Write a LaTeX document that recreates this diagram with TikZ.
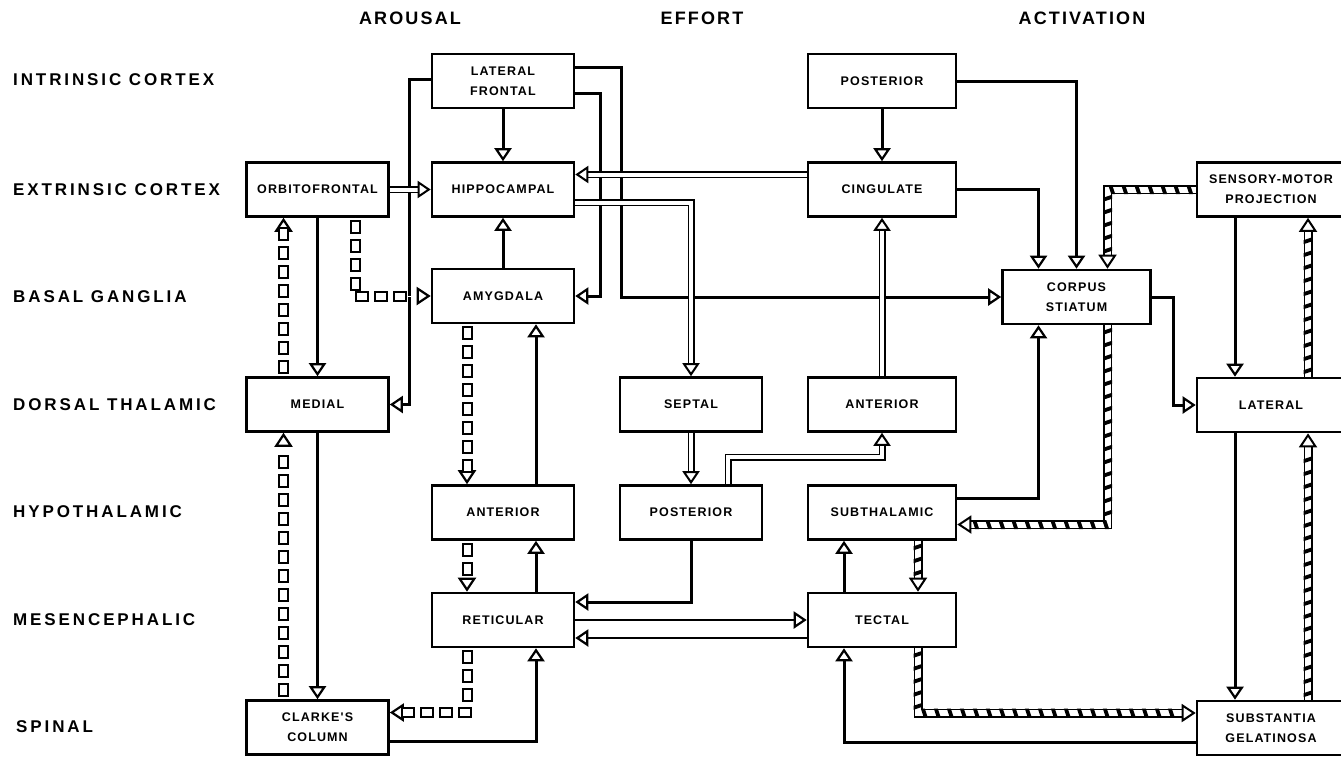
\documentclass[tikz,border=0pt]{standalone}
\usepackage{fontspec}
\setmainfont{Liberation Sans}
\newfontfamily\boxfont[LetterSpace=9]{Liberation Sans}
\newfontfamily\labfont[LetterSpace=17]{Liberation Sans}
\newfontfamily\headfont[LetterSpace=12]{Liberation Sans}
\usetikzlibrary{arrows.meta,decorations.markings}
\begin{document}
\begin{tikzpicture}[x=1pt,y=-1pt,
  box/.style={draw, line width=2.6pt, fill=white, minimum height=54pt, inner sep=0pt, align=center,
    font=\boxfont\bfseries\fontsize{12.5}{20}\selectfont},
  abox/.style={box, minimum width=142pt},
  cbox/.style={box, minimum width=148pt},
  lab/.style={anchor=west, inner sep=0pt, font=\labfont\bfseries\fontsize{17}{19}\selectfont},
  head/.style={inner sep=0pt, font=\headfont\bfseries\fontsize{18}{20}\selectfont},
  sol/.style={line width=3pt, -{Triangle[open, length=13pt, width=17pt, line width=2.2pt]}},
  thinl/.style={line width=1.8pt, -{Triangle[open, length=13pt, width=17pt, line width=2.2pt]}},
  dbl/.style={double=white, double distance=4pt, line width=1.5pt,
    -{Triangle[open, length=13pt, width=17pt, line width=2pt]}},
  dbox/.style={draw=white, line width=0.1pt,
    -{Triangle[open, black, length=14pt, width=18pt, line width=2.2pt]},
    postaction={decorate, decoration={markings,
      mark=between positions 9pt and -15pt step 19pt with {\draw[arrows=-, black, line width=2pt, fill=white] (-6,-4.5) rectangle (6,4.5);}}}},
  hatch/.style={double=white, double distance=6pt, line width=1.5pt,
    -{Triangle[open, length=14pt, width=18pt, line width=2pt]},
    postaction={decorate, decoration={markings,
      mark=between positions 6pt and -17pt step 13pt with {\fill[black] (-3.5,-4.5) -- (0.5,-4.5) -- (3.5,4.5) -- (-0.5,4.5) -- cycle;}}}}
]
\path[use as bounding box] (0,0) rectangle (1341,756);
\clip (0,0) rectangle (1341,756);

% headers
\node[head] (hA) at (410,18) {AROUSAL};
\node[head] (hE) at (702,18) {EFFORT};
\node[head] (hC) at (1082,18) {ACTIVATION};

% row labels
\node[lab] (r1) at (13,80) {INTRINSIC CORTEX};
\node[lab] (r2) at (13,190) {EXTRINSIC CORTEX};
\node[lab] (r3) at (13,297) {BASAL GANGLIA};
\node[lab] (r4) at (13,405) {DORSAL THALAMIC};
\node[lab] (r5) at (13,512) {HYPOTHALAMIC};
\node[lab] (r6) at (13,620) {MESENCEPHALIC};
\node[lab] (r7) at (16,727) {SPINAL};

% boxes
\node[abox] (lf)    at (503,81)     {LATERAL\\FRONTAL};
\node[cbox] (post1) at (882,81)     {POSTERIOR};
\node[abox] (orb)   at (317.5,189.5) {ORBITOFRONTAL};
\node[abox] (hipp)  at (503,189.5)  {HIPPOCAMPAL};
\node[cbox] (cing)  at (882,189.5)  {CINGULATE};
\node[cbox] (smp)   at (1271,189.5) {SENSORY-MOTOR\\PROJECTION};
\node[abox] (amy)   at (503,296)    {AMYGDALA};
\node[cbox] (cs)    at (1076.5,297) {CORPUS\\STIATUM};
\node[abox] (med)   at (317.5,404.5) {MEDIAL};
\node[abox] (sept)  at (691,404.5)  {SEPTAL};
\node[cbox] (ant2)  at (882,404.5)  {ANTERIOR};
\node[cbox] (lat)   at (1271,405)   {LATERAL};
\node[abox] (ant1)  at (503,512.5)  {ANTERIOR};
\node[abox] (post2) at (691,512.5)  {POSTERIOR};
\node[cbox] (subt)  at (882,512.5)  {SUBTHALAMIC};
\node[abox] (ret)   at (503,620)    {RETICULAR};
\node[cbox] (tect)  at (882,620)    {TECTAL};
\node[abox] (clk)   at (317.5,727.5) {CLARKE'S\\COLUMN};
\node[cbox] (subs)  at (1271,728)   {SUBSTANTIA\\GELATINOSA};

% solid connectors
\draw[sol] (lf.south) -- (hipp.north);
\draw[sol] ([yshift=2pt]lf.west) -- ++(-21,0) |- (med.east);
\draw[sol] ([yshift=14pt]lf.east) -- ++(46,0) |- (cs.west);
\draw[sol] ([yshift=-12pt]lf.east) -- ++(25,0) |- (amy.east);
\draw[sol] (amy.north) -- (hipp.south);
\draw[sol] (orb.south) -- (med.north);
\draw[sol] (med.south) -- (clk.north);
\draw[sol] ([xshift=33pt]ant1.north) -- ([xshift=33pt]amy.south);
\draw[sol] ([xshift=33pt]ret.north) -- ([xshift=33pt]ant1.south);
\draw[sol] ([yshift=-14pt]clk.east) -| ([xshift=33pt]ret.south);
\draw[sol] (post2.south) |- ([yshift=18pt]ret.east);
\draw[thinl] (ret.east) -- (tect.west);
\draw[thinl] ([yshift=-18pt]tect.west) -- ([yshift=-18pt]ret.east);
\draw[sol] (post1.south) -- (cing.north);
\draw[sol] (post1.east) -| (cs.north);
\draw[sol] (cing.east) -| ([xshift=-38pt]cs.north);
\draw[sol] ([yshift=14pt]subt.east) -| ([xshift=-38pt]cs.south);
\draw[sol] (cs.east) -- ++(22,0) |- (lat.west);
\draw[sol] ([xshift=-36pt]smp.south) -- ([xshift=-36pt]lat.north);
\draw[sol] ([xshift=-36pt]lat.south) -- ([xshift=-36pt]subs.north);
\draw[sol] ([xshift=-38pt]tect.north) -- ([xshift=-38pt]subt.south);
\draw[sol] ([yshift=-14pt]subs.west) -| ([xshift=-38pt]tect.south);

% double (hollow) connectors
\draw[dbl] (orb.east) -- (hipp.west);
\draw[dbl] ([yshift=15pt]cing.west) -- ([yshift=15pt]hipp.east);
\draw[dbl] ([yshift=-13pt]hipp.east) -| (sept.north);
\draw[dbl] (sept.south) -- (post2.north);
\draw[dbl] ([xshift=37pt]post2.north) -- ++(0,-27) -| (ant2.south);
\draw[dbl] (ant2.north) -- (cing.south);

% chains of boxes
\draw[dbox] ([xshift=-34pt]med.north) -- ([xshift=-34pt]orb.south);
\draw[dbox] ([xshift=38pt]orb.south) |- (amy.west);
\draw[dbox] ([xshift=-34pt]clk.north) -- ([xshift=-34pt]med.south);
\draw[dbox] ([xshift=-36pt]amy.south) -- ([xshift=-36pt]ant1.north);
\draw[dbox] ([xshift=-36pt]ant1.south) -- ([xshift=-36pt]ret.north);
\draw[dbox] ([xshift=-36pt]ret.south) |- ([yshift=15pt]clk.east);

% hatched
\draw[hatch] (smp.west) -| ([xshift=31pt]cs.north);
\draw[hatch] ([xshift=31pt]cs.south) |- ([yshift=-12pt]subt.east);
\draw[hatch] ([xshift=36pt]subt.south) -- ([xshift=36pt]tect.north);
\draw[hatch] ([xshift=36pt]tect.south) |- ([yshift=15pt]subs.west);
\draw[hatch] ([xshift=37pt]subs.north) -- ([xshift=37pt]lat.south);
\draw[hatch] ([xshift=37pt]lat.north) -- ([xshift=37pt]smp.south);
\end{tikzpicture}
\end{document}
